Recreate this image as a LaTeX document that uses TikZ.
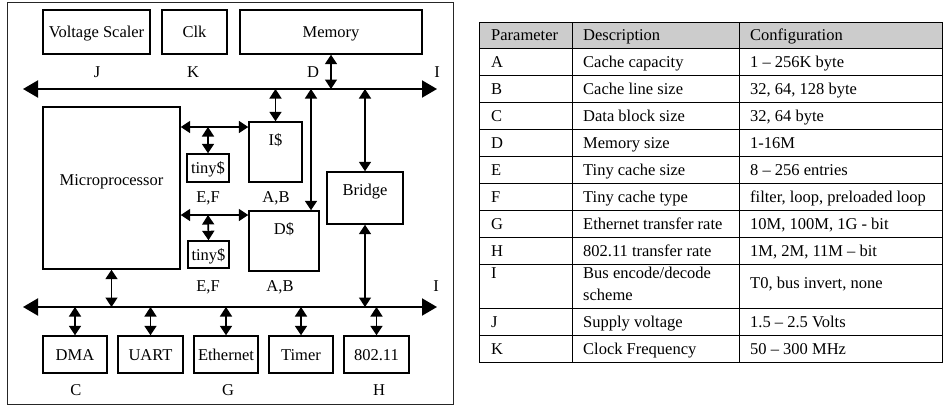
\documentclass[tikz,border=0pt]{standalone}
\usepackage{fontspec}
\setmainfont{Liberation Serif}
\usetikzlibrary{arrows.meta, positioning}

\definecolor{headgray}{HTML}{CCCCCC}

\tikzset{
    blk/.style={draw, line width=1.4pt, inner sep=0pt, text height=11pt, text depth=0pt},
    txt/.style={inner sep=0pt, text height=11pt, text depth=0pt},
    bus/.style={line width=2pt, {Triangle[length=15pt,width=17pt]}-{Triangle[length=15pt,width=17pt]}},
    link/.style={line width=1.6pt, {Triangle[length=9.5pt,width=12pt]}-{Triangle[length=9.5pt,width=12pt]}},
    rule/.style={line width=1pt, line cap=rect},
    cell/.style={anchor=base west, inner sep=0pt},
}

\begin{document}
\begin{tikzpicture}[x=1pt, y=-1pt, font=\fontsize{16.5}{19}\selectfont]
        \useasboundingbox (0,0) rectangle (943,407);
        \draw[line width=1pt, black!85] (7,2) rectangle (453,404);

        % blocks above the system bus
        \node[blk, minimum width=107pt, minimum height=44pt] (vs)  at (96.5,32) {Voltage Scaler};
        \node[blk, minimum width=65pt,  minimum height=44pt] (clk) at (194.5,32) {Clk};
        \node[blk, minimum width=182pt, minimum height=44pt] (mem) at (331,32) {Memory};
        \node[txt] (lj) at (97,72)  {J};
        \node[txt] (lk) at (193,72) {K};
        \node[txt] (ld) at (313,72) {D};
        \node[txt] (li) at (437,72) {I};

        % processor, caches and bridge
        \node[blk, minimum width=137pt, minimum height=162pt] (micro)  at (111.5,188) {};
        \node[txt] (microtxt) at ([yshift=8pt]micro.center) {Microprocessor};
        \node[blk, minimum width=53pt, minimum height=60pt] (icache) at (275.5,152) {};
        \node[txt, below=13pt of icache.north] (itxt) {I\$};
        \node[blk, minimum width=70pt, minimum height=60pt] (dcache) at (284,241) {};
        \node[txt, below=13pt of dcache.north] (dtxt) {D\$};
        \node[blk, minimum width=42pt, minimum height=28pt] (tiny1) at (208,168) {tiny\$};
        \node[blk, minimum width=41pt, minimum height=27pt] (tiny2) at (208.5,254.5) {tiny\$};
        \node[blk, minimum width=76pt, minimum height=52pt] (bridge) at (365,198) {};
        \node[txt] (bridgetxt) at ([yshift=8pt]bridge.center) {Bridge};
        \node[txt] (lef1) at (208,197) {E,F};
        \node[txt] (lab1) at (276,197) {A,B};
        \node[txt] (lef2) at (208,286) {E,F};
        \node[txt] (lab2) at (280,286) {A,B};
        \node[txt] (li2)  at (436,286) {I};

        % peripherals
        \node[blk, minimum width=64pt, minimum height=37pt] (dma)   at (75,354.5)  {DMA};
        \node[blk, minimum width=65pt, minimum height=37pt] (uart)  at (150.5,354.5) {UART};
        \node[blk, minimum width=64pt, minimum height=37pt] (eth)   at (226,354.5) {Ethernet};
        \node[blk, minimum width=64pt, minimum height=37pt] (timer) at (301,354.5) {Timer};
        \node[blk, minimum width=65pt, minimum height=37pt] (wifi)  at (376.5,354.5) {802.11};
        \node[txt] (lc) at (76,390)  {C};
        \node[txt] (lg) at (228,390) {G};
        \node[txt] (lh) at (379,390) {H};

        % buses
        \coordinate (tbL) at (23,89);  \coordinate (tbR) at (437,89);
        \coordinate (bbL) at (23,307); \coordinate (bbR) at (437,307);
        \draw[bus] (tbL) -- (tbR);
        \draw[bus] (bbL) -- (bbR);

        \draw[link] (mem.south) -- (mem.south |- tbL);
        \draw[link] (icache.north |- tbL) -- (icache.north);
        \coordinate (dtap) at (311,89);
        \draw[link] (dtap) -- (dtap |- dcache.north);
        \draw[link] (bridge.north |- tbL) -- (bridge.north);
        \draw[link] (bridge.south) -- (bridge.south |- bbL);
        \draw[link] (micro.south) -- (micro.south |- bbL);

        \coordinate (ijoin) at (208,127);
        \draw[link] (micro.east |- ijoin) -- (icache.west |- ijoin);
        \draw[link] (ijoin) -- (tiny1.north);
        \coordinate (djoin) at (208,215);
        \draw[link] (micro.east |- djoin) -- (dcache.west |- djoin);
        \draw[link] (djoin) -- (tiny2.north);

        \foreach \n in {dma,uart,eth,timer,wifi}
            \draw[link] (\n.north |- bbL) -- (\n.north);

        % parameter table
        \fill[headgray] (479,22) rectangle (942,48);
        \foreach \y in {22,48,75,102,129,156,183,210,237,264,308,335,362}
            \draw[rule] (479,\y) -- (942,\y);
        \foreach \x in {479,572,739,942}
            \draw[rule] (\x,22) -- (\x,362);

        \node[cell] (hp) at (491,40.5) {Parameter};
        \node[cell] (hd) at (583,40.5) {Description};
        \node[cell] (hc) at (750,40.5) {Configuration};

        \foreach \y/\p/\d/\c [count=\i] in {
                61.5/A/Cache capacity/{1 -- 256K byte},
                88.5/B/Cache line size/{32, 64, 128 byte},
                115.5/C/Data block size/{32, 64 byte},
                142.5/D/Memory size/{1-16M},
                169.5/E/Tiny cache size/{8 -- 256 entries},
                196.5/F/Tiny cache type/{filter, loop, preloaded loop},
                223.5/G/Ethernet transfer rate/{10M, 100M, 1G - bit},
                250.5/H/802.11 transfer rate/{1M, 2M, 11M -- bit},
                321.5/J/Supply voltage/{1.5 -- 2.5 Volts},
                348.5/K/Clock Frequency/{50 -- 300 MHz}} {
            \node[cell] (p\i) at (491,\y+5.5) {\p};
            \node[cell] (d\i) at (583,\y+5.5) {\d};
            \node[cell] (c\i) at (750,\y+5.5) {\c};
        }
        \node[cell] (pI)  at (491,278.5) {I};
        \node[cell] (dI)  at (583,278.5) {Bus encode/decode};
        \node[cell] (dI2) at (583,300.5) {scheme};
        \node[cell] (cI)  at (750,288.5) {T0, bus invert, none};
    \end{tikzpicture}
\end{document}
